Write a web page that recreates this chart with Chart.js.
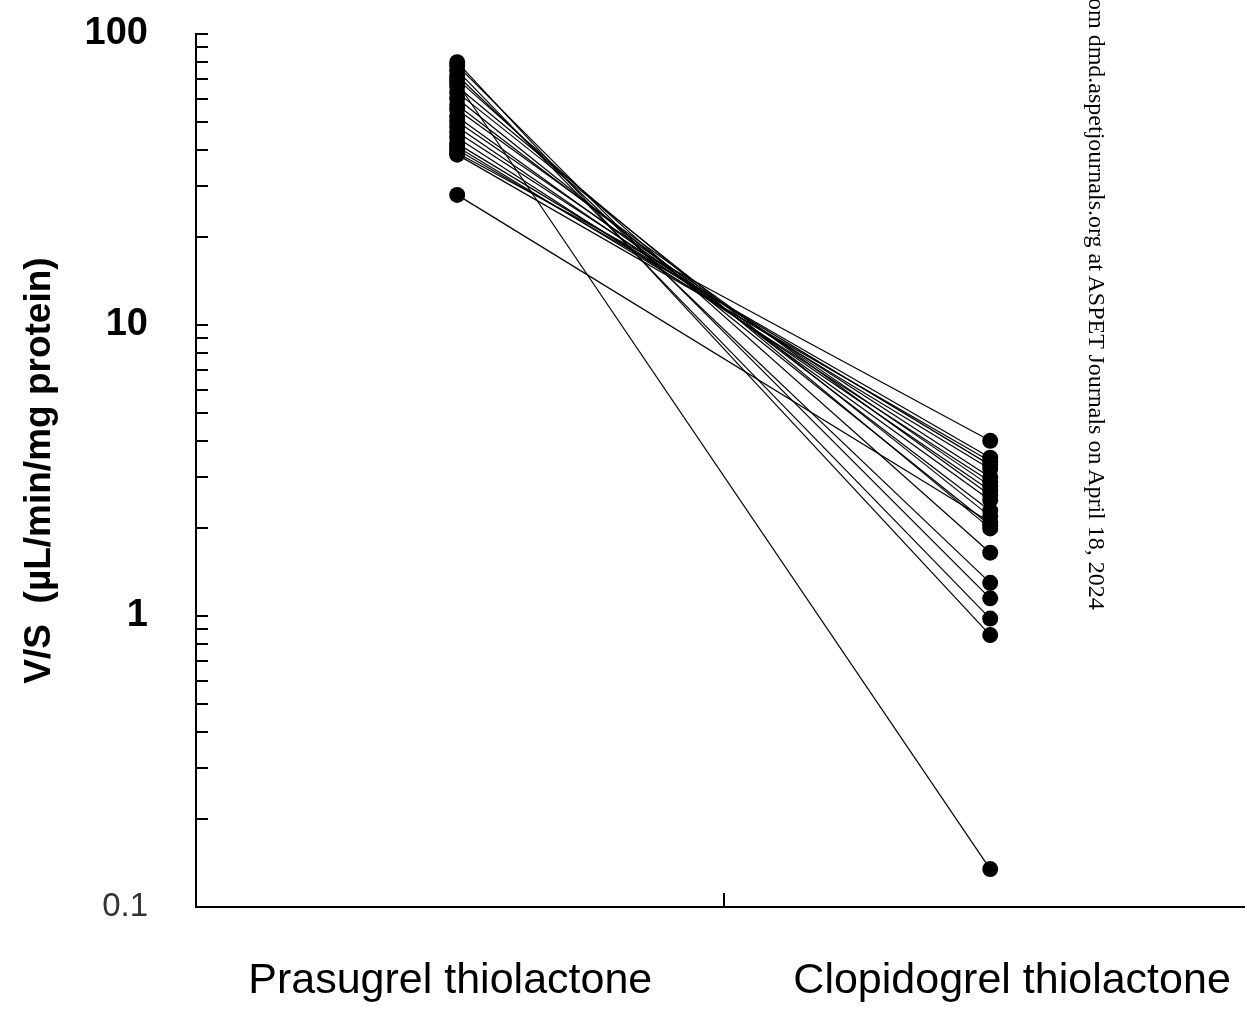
<!DOCTYPE html>
<html>
<head>
<meta charset="utf-8">
<script src="https://cdn.jsdelivr.net/npm/chart.js@4.4.1/dist/chart.umd.min.js"></script>
<style>
  html, body { margin: 0; padding: 0; background: #fff; }
  #wrap { position: relative; width: 1245px; height: 1018px; overflow: hidden; }
  #c { position: absolute; left: 0; top: 0; }
  #wm {
    position: absolute; left: 1085px; top: -2px;
    writing-mode: vertical-rl;
    font-family: "Liberation Serif", "Times New Roman", serif;
    font-size: 24px; line-height: 24px; color: #000; white-space: nowrap;
  }
</style>
</head>
<body>
<div id="wrap">
  <canvas id="c" width="1245" height="1018"></canvas>
  <div id="wm">om dmd.aspetjournals.org at ASPET Journals on April 18, 2024</div>
</div>
<script>
// ---- data ----
const categories = ['Prasugrel thiolactone', 'Clopidogrel thiolactone'];
const categoryX = [0.5, 1.5];
const prasugrel   = [80, 78, 75, 72, 70, 68, 66, 63, 60, 57, 55, 52, 50, 48, 46, 44, 42, 41, 40, 39, 38.5, 28];
const clopidogrel = [0.86, 1.15, 0.98, 1.3, 1.65, 0.135, 2.0, 2.2, 2.05, 2.3, 2.6, 2.5, 2.8, 2.7, 3.0, 2.9, 3.3, 3.2, 3.5, 4.0, 3.4, 2.1];
const yTickValues = [0.1,0.2,0.3,0.4,0.5,0.6,0.7,0.8,0.9,1,2,3,4,5,6,7,8,9,10,20,30,40,50,60,70,80,90,100];
const yTickLabels = {0.1: '0.1', 1: '1', 10: '10', 100: '100'};
const yTitle = 'V/S  (\u00b5L/min/mg protein)';

const datasets = prasugrel.map((p, i) => ({
  data: [{x: categoryX[0], y: p}, {x: categoryX[1], y: clopidogrel[i]}],
  showLine: true,
  borderColor: '#000',
  borderWidth: 1.2,
  backgroundColor: '#000',
  pointBackgroundColor: '#000',
  pointBorderWidth: 0,
  pointRadius: 8,
  pointHoverRadius: 8
}));

const innerTicks = {
  id: 'innerTicks',
  afterDatasetsDraw(chart) {
    const ctx = chart.ctx;
    const y = chart.scales.y, x = chart.scales.x;
    ctx.save();
    ctx.strokeStyle = '#000';
    ctx.lineWidth = 2;
    ctx.beginPath();
    yTickValues.forEach(v => {
      const py = Math.round(y.getPixelForValue(v));
      ctx.moveTo(x.left, py);
      ctx.lineTo(x.left + 12, py);
    });
    const px = Math.round(x.getPixelForValue(1));
    ctx.moveTo(px, y.bottom);
    ctx.lineTo(px, y.bottom - 14);
    ctx.stroke();
    ctx.restore();
  }
};

new Chart(document.getElementById('c'), {
  type: 'scatter',
  data: { datasets },
  plugins: [innerTicks],
  options: {
    responsive: false,
    animation: false,
    layout: { autoPadding: false, padding: { top: 34, left: 0, right: 0, bottom: 0 } },
    plugins: { legend: { display: false }, tooltip: { enabled: false } },
    scales: {
      x: {
        type: 'linear',
        min: 0.01,
        max: 1.978,
        afterFit(s) { s.height = 111; s.paddingLeft = 0; s.paddingRight = 0; },
        afterBuildTicks(s) {
          s.ticks = [{value: 0.487}, {value: 1}, {value: 1.541}];
        },
        grid: { display: true, drawOnChartArea: false, drawTicks: false },
        border: { display: true, color: '#000', width: 2 },
        ticks: {
          padding: 48,
          maxRotation: 0,
          autoSkip: false,
          color: '#000',
          font: { family: '"Liberation Sans", Arial, sans-serif', size: 43 },
          callback: (v) => v < 0.9 ? categories[0] : (v > 1.1 ? categories[1] : '')
        }
      },
      y: {
        type: 'logarithmic',
        min: 0.1,
        max: 100,
        afterFit(s) { s.width = 196; s.paddingTop = 0; s.paddingBottom = 0; },
        afterBuildTicks(s) {
          s.ticks = yTickValues.map(v => ({value: v, major: !!yTickLabels[v]}));
        },
        grid: { display: true, drawOnChartArea: false, drawTicks: false },
        border: { display: true, color: '#000', width: 2 },
        ticks: {
          padding: 48,
          autoSkip: false,
          color: (c) => c.tick && c.tick.value === 0.1 ? '#333' : '#000',
          font: (c) => (c.tick && c.tick.value === 0.1)
            ? { family: '"Liberation Sans", Arial, sans-serif', size: 33, weight: 'normal' }
            : { family: '"Liberation Sans", Arial, sans-serif', size: 38, weight: 'bold' },
          callback: (v) => yTickLabels[v] || ''
        },
        title: {
          display: true,
          text: yTitle,
          color: '#000',
          padding: { top: 18, bottom: 0 },
          font: { family: '"Liberation Sans", Arial, sans-serif', size: 37, weight: 'bold' }
        }
      }
    }
  }
});
</script>
</body>
</html>
